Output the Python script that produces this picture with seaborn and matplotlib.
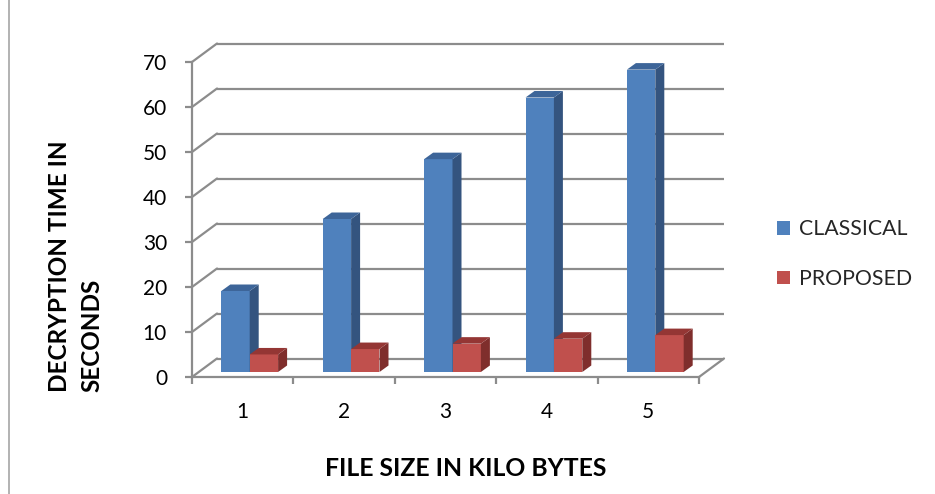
import numpy as np
import pandas as pd
import matplotlib
matplotlib.use("Agg")
import matplotlib.pyplot as plt
from matplotlib.patches import Polygon, Patch
from matplotlib.lines import Line2D
from matplotlib.transforms import offset_copy
import seaborn as sns

# ---- data -------------------------------------------------------------
file_sizes = ["1", "2", "3", "4", "5"]
classical = [18, 34, 47.3, 61, 67.2]
proposed = [3.9, 5.1, 6.3, 7.4, 8.2]
series_names = ["CLASSICAL", "PROPOSED"]
y_ticks = [0, 10, 20, 30, 40, 50, 60, 70]

df = pd.DataFrame({
    "size": file_sizes * 2,
    "time": classical + proposed,
    "series": [series_names[0]] * 5 + [series_names[1]] * 5,
})

# ---- style ------------------------------------------------------------
sns.set_style("white")
plt.rcParams["font.family"] = ["Lato", "DejaVu Sans"]

front_colors = {"CLASSICAL": "#4F81BD", "PROPOSED": "#C0504D"}
side_colors = {"CLASSICAL": "#34547F", "PROPOSED": "#7F2E2C"}
top_colors = {"CLASSICAL": "#3D6599", "PROPOSED": "#943634"}
grid_col = "#8C8C8C"

W, H = 935, 494
fig = plt.figure(figsize=(W / 100, H / 100), dpi=100)
fig.patch.set_facecolor("white")

# front plane of the 3-D box
ax_left, ax_bottom, ax_w, ax_h = 192, 117, 507, 315
ax = fig.add_axes([ax_left / W, ax_bottom / H, ax_w / W, ax_h / H])

ux = ax_w / 5.0      # pixels per category
uy = ax_h / 70.0     # pixels per second

# depth of the floor / back wall and of the bars (pixels)
wall_dx, wall_dy = 25, 18.5
bar_plane_dx, bar_plane_dy = 7, 5
bar_dx, bar_dy = 9, 6.5

sns.barplot(data=df, x="size", y="time", hue="series",
            palette=front_colors, width=0.56, dodge=True, saturation=1,
            legend=False, linewidth=0, ax=ax)

bar_trans = offset_copy(ax.transData, fig=fig, x=bar_plane_dx, y=bar_plane_dy,
                        units="dots")
bdx, bdy = bar_dx / ux, bar_dy / uy

for z, (container, name) in enumerate(zip(ax.containers, series_names)):
    for rect in container.patches:
        rect.set_transform(bar_trans)
        rect.set_zorder(3 + 2 * z)
        rect.set_clip_on(False)
        x0 = rect.get_x()
        x1 = x0 + rect.get_width()
        h = rect.get_height()
        side = Polygon([(x1, 0), (x1 + bdx, bdy), (x1 + bdx, h + bdy), (x1, h)],
                       closed=True, facecolor=side_colors[name], edgecolor="none",
                       transform=bar_trans, zorder=3 + 2 * z, clip_on=False)
        top = Polygon([(x0, h), (x1, h), (x1 + bdx, h + bdy), (x0 + bdx, h + bdy)],
                      closed=True, facecolor=top_colors[name], edgecolor="none",
                      transform=bar_trans, zorder=3 + 2 * z, clip_on=False)
        ax.add_patch(side)
        ax.add_patch(top)

# back wall gridlines and their diagonal returns to the value axis
gdx, gdy = wall_dx / ux, wall_dy / uy
for v in y_ticks:
    ax.plot([-0.5 + gdx, 4.5 + gdx], [v + gdy, v + gdy], color=grid_col,
            lw=1.6, zorder=1, clip_on=False, solid_capstyle="butt")
    ax.plot([-0.5, -0.5 + gdx], [v, v + gdy], color=grid_col,
            lw=1.6, zorder=1, clip_on=False)
# right edge of the floor
ax.plot([4.5, 4.5 + gdx], [0, gdy], color=grid_col, lw=1.6, zorder=1, clip_on=False)

# ---- axes -------------------------------------------------------------
ax.set_xlim(-0.5, 4.5)
ax.set_ylim(0, 70)
ax.set_facecolor("none")
for s in ["top", "right"]:
    ax.spines[s].set_visible(False)
for s in ["left", "bottom"]:
    ax.spines[s].set_color(grid_col)
    ax.spines[s].set_linewidth(1.6)
    ax.spines[s].set_zorder(2)

ax.set_yticks(y_ticks)
ax.set_yticklabels([str(v) for v in y_ticks])
ax.tick_params(axis="y", which="major", direction="out", length=5, width=1.6,
               color=grid_col, pad=13, labelsize=15, labelcolor="black", left=True)
ax.set_xticks(range(5))
ax.set_xticklabels(file_sizes)
ax.set_xticks(np.arange(-0.5, 5.0, 1.0), minor=True)
ax.tick_params(axis="x", which="major", length=0, pad=18, labelsize=15,
               labelcolor="black")
ax.tick_params(axis="x", which="minor", direction="out", length=5, width=1.6,
               color=grid_col, bottom=True)

ax.set_xlabel("FILE SIZE IN KILO BYTES", fontsize=17.8, fontweight="bold",
              color="black")
ax.xaxis.set_label_coords(466 / W, 1 - 468 / H, transform=fig.transFigure)
ax.xaxis.label.set_va("center")

ax.set_ylabel("DECRYPTION TIME IN\nSECONDS", fontsize=17.5, fontweight="bold",
              color="black", rotation=90, multialignment="left",
              linespacing=1.48)
ax.yaxis.set_label_coords(76 / W, 1 - 392 / H, transform=fig.transFigure)
ax.yaxis.label.set_ha("left")
ax.yaxis.label.set_va("center")
ax.yaxis.label.set_rotation_mode("anchor")

# ---- legend -----------------------------------------------------------
handles = [Patch(facecolor=front_colors[n], edgecolor="none") for n in series_names]
ax.legend(handles, series_names, loc="center left",
          bbox_to_anchor=(777 / W, 1 - 254 / H), bbox_transform=fig.transFigure,
          frameon=False, fontsize=15.3, handlelength=0.62, handleheight=0.62,
          handletextpad=0.42, labelspacing=1.4, borderaxespad=0, borderpad=0)

# chart area frame (left edge)
fig.add_artist(Line2D([8.5 / W, 8.5 / W], [0, 1], transform=fig.transFigure,
                      color="#A6A6A6", lw=1.2))

fig.savefig("out.png", dpi=100)
